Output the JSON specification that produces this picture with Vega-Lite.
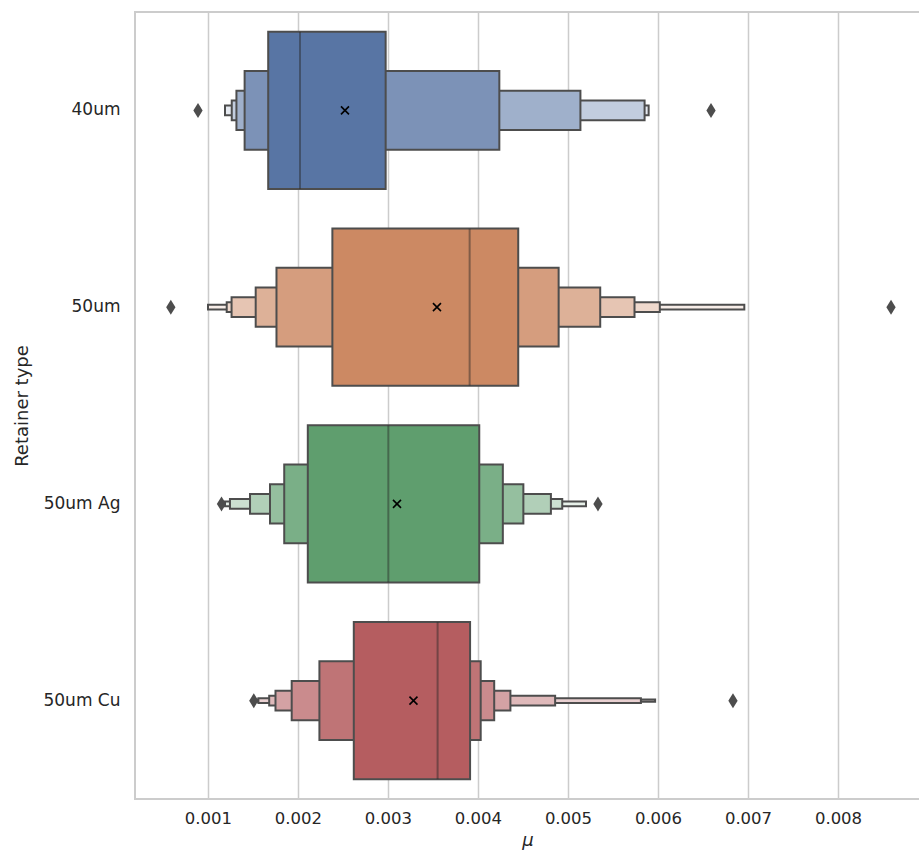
{
  "$schema": "https://vega.github.io/schema/vega-lite/v6.json",
  "autosize": "none",
  "width": 785,
  "height": 787,
  "padding": {"left": 135, "top": 12, "right": 0, "bottom": 56},
  "background": "white",
  "config": {
    "font": "DejaVu Sans",
    "view": {"stroke": "#cccccc", "strokeWidth": 2},
    "axis": {
      "labelFont": "DejaVu Sans", "titleFont": "DejaVu Sans",
      "labelColor": "#262626", "titleColor": "#262626",
      "labelFontSize": 16.5, "titleFontSize": 18, "titleFontWeight": "normal",
      "ticks": false, "domain": false, "gridColor": "#cccccc", "gridWidth": 1.5
    },
    "axisX": {"grid": true, "labelPadding": 11, "titlePadding": 5, "titleFontStyle": "italic"},
    "axisY": {"grid": false, "labelPadding": 15, "titlePadding": 11, "labelFontSize": 17}
  },
  "datasets": {
    "boxes": [
      {"type": "40um", "level": 1, "lo": 0.001669, "hi": 0.002974},
      {"type": "40um", "level": 2, "lo": 0.001407, "hi": 0.004237},
      {"type": "40um", "level": 3, "lo": 0.001316, "hi": 0.005138},
      {"type": "40um", "level": 4, "lo": 0.001264, "hi": 0.005851},
      {"type": "40um", "level": 5, "lo": 0.001189, "hi": 0.005896},
      {"type": "50um", "level": 1, "lo": 0.002382, "hi": 0.004447},
      {"type": "50um", "level": 2, "lo": 0.001761, "hi": 0.004896},
      {"type": "50um", "level": 3, "lo": 0.001530, "hi": 0.005358},
      {"type": "50um", "level": 4, "lo": 0.001262, "hi": 0.005739},
      {"type": "50um", "level": 5, "lo": 0.001208, "hi": 0.006020},
      {"type": "50um", "level": 6, "lo": 0.001000, "hi": 0.006959},
      {"type": "50um Ag", "level": 1, "lo": 0.002109, "hi": 0.004014},
      {"type": "50um Ag", "level": 2, "lo": 0.001847, "hi": 0.004276},
      {"type": "50um Ag", "level": 3, "lo": 0.001689, "hi": 0.004504},
      {"type": "50um Ag", "level": 4, "lo": 0.001467, "hi": 0.004810},
      {"type": "50um Ag", "level": 5, "lo": 0.001244, "hi": 0.004936},
      {"type": "50um Ag", "level": 6, "lo": 0.001189, "hi": 0.005200},
      {"type": "50um Cu", "level": 1, "lo": 0.002620, "hi": 0.003912},
      {"type": "50um Cu", "level": 2, "lo": 0.002238, "hi": 0.004030},
      {"type": "50um Cu", "level": 3, "lo": 0.001930, "hi": 0.004180},
      {"type": "50um Cu", "level": 4, "lo": 0.001750, "hi": 0.004360},
      {"type": "50um Cu", "level": 5, "lo": 0.001680, "hi": 0.004857},
      {"type": "50um Cu", "level": 6, "lo": 0.001560, "hi": 0.005810},
      {"type": "50um Cu", "level": 7, "lo": 0.001520, "hi": 0.005968}
    ],
    "medians": [
      {"type": "40um", "median": 0.002022},
      {"type": "50um", "median": 0.003907},
      {"type": "50um Ag", "median": 0.003004},
      {"type": "50um Cu", "median": 0.003551}
    ],
    "means": [
      {"type": "40um", "mean": 0.002522},
      {"type": "50um", "mean": 0.003544},
      {"type": "50um Ag", "mean": 0.003100},
      {"type": "50um Cu", "mean": 0.003283}
    ],
    "outliers": [
      {"type": "40um", "value": 0.000889},
      {"type": "40um", "value": 0.006589},
      {"type": "50um", "value": 0.000587},
      {"type": "50um", "value": 0.008589},
      {"type": "50um Ag", "value": 0.001150},
      {"type": "50um Ag", "value": 0.005333},
      {"type": "50um Cu", "value": 0.001509},
      {"type": "50um Cu", "value": 0.006833}
    ]
  },
  "encoding": {
    "y": {
      "field": "type", "type": "nominal",
      "scale": {"domain": ["40um", "50um", "50um Ag", "50um Cu"], "paddingInner": 0, "paddingOuter": 0},
      "axis": {"title": "Retainer type"}
    }
  },
  "layer": [
    {
      "data": {"name": "boxes"},
      "transform": [{"filter": "datum.level == 7"}, {"calculate": "datum.type + '-' + datum.level", "as": "key"}],
      "mark": {"type": "bar", "height": {"band": 0.0125}, "stroke": "#4d4d4d", "strokeWidth": 2},
      "encoding": {
        "x": {"field": "lo", "type": "quantitative", "title": "μ", "scale": {"domain": [0.000189, 0.008911], "nice": false, "zero": false}, "axis": {"values": [0.001, 0.002, 0.003, 0.004, 0.005, 0.006, 0.007, 0.008], "format": ".3f"}},
        "x2": {"field": "hi"},
        "color": {
          "field": "key", "type": "nominal", "legend": null,
          "scale": {
            "domain": ["40um-1", "40um-2", "40um-3", "40um-4", "40um-5",
                       "50um-1", "50um-2", "50um-3", "50um-4", "50um-5", "50um-6",
                       "50um Ag-1", "50um Ag-2", "50um Ag-3", "50um Ag-4", "50um Ag-5", "50um Ag-6",
                       "50um Cu-1", "50um Cu-2", "50um Cu-3", "50um Cu-4", "50um Cu-5", "50um Cu-6", "50um Cu-7"],
            "range": ["#5875a4", "#7c92b7", "#9fb0cb", "#c2cdde", "#e6eaf1",
                      "#cc8963", "#d59d7e", "#ddb198", "#e6c5b3", "#efd9cd", "#f7ede8",
                      "#5f9e6e", "#7aaf87", "#95bf9f", "#b1cfb8", "#cce0d1", "#e7f0e9",
                      "#b55d60", "#bf7476", "#ca8b8d", "#d4a2a4", "#dfb9ba", "#e9d0d1", "#f4e7e7"]
          }
        }
      }
    },
    {
      "data": {"name": "boxes"},
      "transform": [{"filter": "datum.level == 6"}, {"calculate": "datum.type + '-' + datum.level", "as": "key"}],
      "mark": {"type": "bar", "height": {"band": 0.025}, "stroke": "#4d4d4d", "strokeWidth": 2},
      "encoding": {
        "x": {"field": "lo", "type": "quantitative", "title": "μ"},
        "x2": {"field": "hi"},
        "color": {"field": "key", "type": "nominal", "legend": null}
      }
    },
    {
      "data": {"name": "boxes"},
      "transform": [{"filter": "datum.level == 5"}, {"calculate": "datum.type + '-' + datum.level", "as": "key"}],
      "mark": {"type": "bar", "height": {"band": 0.05}, "stroke": "#4d4d4d", "strokeWidth": 2},
      "encoding": {
        "x": {"field": "lo", "type": "quantitative", "title": "μ"},
        "x2": {"field": "hi"},
        "color": {"field": "key", "type": "nominal", "legend": null}
      }
    },
    {
      "data": {"name": "boxes"},
      "transform": [{"filter": "datum.level == 4"}, {"calculate": "datum.type + '-' + datum.level", "as": "key"}],
      "mark": {"type": "bar", "height": {"band": 0.1}, "stroke": "#4d4d4d", "strokeWidth": 2},
      "encoding": {
        "x": {"field": "lo", "type": "quantitative", "title": "μ"},
        "x2": {"field": "hi"},
        "color": {"field": "key", "type": "nominal", "legend": null}
      }
    },
    {
      "data": {"name": "boxes"},
      "transform": [{"filter": "datum.level == 3"}, {"calculate": "datum.type + '-' + datum.level", "as": "key"}],
      "mark": {"type": "bar", "height": {"band": 0.2}, "stroke": "#4d4d4d", "strokeWidth": 2},
      "encoding": {
        "x": {"field": "lo", "type": "quantitative", "title": "μ"},
        "x2": {"field": "hi"},
        "color": {"field": "key", "type": "nominal", "legend": null}
      }
    },
    {
      "data": {"name": "boxes"},
      "transform": [{"filter": "datum.level == 2"}, {"calculate": "datum.type + '-' + datum.level", "as": "key"}],
      "mark": {"type": "bar", "height": {"band": 0.4}, "stroke": "#4d4d4d", "strokeWidth": 2},
      "encoding": {
        "x": {"field": "lo", "type": "quantitative", "title": "μ"},
        "x2": {"field": "hi"},
        "color": {"field": "key", "type": "nominal", "legend": null}
      }
    },
    {
      "data": {"name": "boxes"},
      "transform": [{"filter": "datum.level == 1"}, {"calculate": "datum.type + '-' + datum.level", "as": "key"}],
      "mark": {"type": "bar", "height": {"band": 0.8}, "stroke": "#4d4d4d", "strokeWidth": 2},
      "encoding": {
        "x": {"field": "lo", "type": "quantitative", "title": "μ"},
        "x2": {"field": "hi"},
        "color": {"field": "key", "type": "nominal", "legend": null}
      }
    },
    {
      "data": {"name": "medians"},
      "mark": {"type": "tick", "orient": "vertical", "size": 157, "thickness": 2, "color": "#262626", "opacity": 0.45},
      "encoding": {
        "x": {"field": "median", "type": "quantitative", "title": "μ"}
      }
    },
    {
      "data": {"name": "outliers"},
      "mark": {"type": "point", "shape": "M0,-1L0.62,0L0,1L-0.62,0Z", "size": 225, "filled": true, "color": "#4d4d4d", "opacity": 1},
      "encoding": {
        "x": {"field": "value", "type": "quantitative", "title": "μ"}
      }
    },
    {
      "data": {"name": "means"},
      "mark": {"type": "point", "shape": "M-1,-1L1,1M-1,1L1,-1", "size": 64, "filled": false, "stroke": "#000000", "strokeWidth": 1.6, "opacity": 1},
      "encoding": {
        "x": {"field": "mean", "type": "quantitative", "title": "μ"}
      }
    }
  ]
}
